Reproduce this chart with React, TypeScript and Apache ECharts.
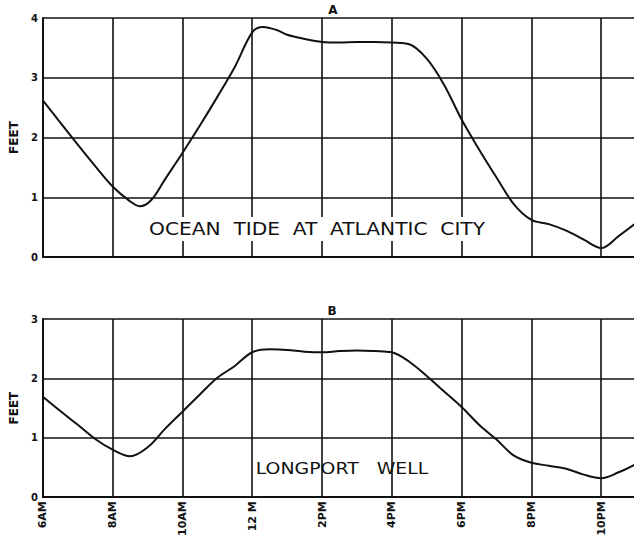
import React, { useEffect, useRef } from "react";
import * as echarts from "echarts";

const xTickLabels = ["6AM", "8AM", "10AM", "12 M", "2PM", "4PM", "6PM", "8PM", "10PM", "12PM"];

const tideHours = [6, 6.5, 7, 7.5, 8, 8.5, 8.78, 9.1, 9.5, 10, 10.5, 11, 11.5, 12, 12.3, 12.7, 13, 13.5, 14, 14.5, 15, 15.5, 16, 16.5, 17, 17.5, 18, 18.5, 19, 19.5, 20, 20.5, 21, 21.5, 22, 22.5, 23];
const tideFeet = [2.62, 2.25, 1.88, 1.52, 1.18, 0.93, 0.85, 0.95, 1.3, 1.74, 2.2, 2.68, 3.18, 3.76, 3.85, 3.8, 3.72, 3.65, 3.6, 3.59, 3.6, 3.6, 3.59, 3.56, 3.32, 2.88, 2.3, 1.8, 1.33, 0.88, 0.62, 0.55, 0.44, 0.29, 0.15, 0.35, 0.57];

const wellHours = [6, 6.5, 7, 7.5, 8, 8.5, 9, 9.5, 10, 10.5, 11, 11.5, 12, 12.5, 13, 13.5, 14, 14.5, 15, 15.5, 16, 16.5, 17, 17.5, 18, 18.5, 19, 19.5, 20, 20.5, 21, 21.5, 22, 22.5, 23];
const wellFeet = [1.69, 1.45, 1.22, 0.98, 0.8, 0.69, 0.84, 1.15, 1.44, 1.73, 2.01, 2.21, 2.44, 2.49, 2.48, 2.45, 2.44, 2.46, 2.47, 2.46, 2.44, 2.28, 2.04, 1.78, 1.52, 1.22, 0.97, 0.7, 0.58, 0.53, 0.48, 0.38, 0.32, 0.42, 0.56];

const INK = "#111";
const FONT = "DejaVu Sans";

export default function App() {
  const ref = useRef<HTMLDivElement>(null);
  useEffect(() => {
    if (!ref.current) return;
    const chart = echarts.init(ref.current, null, { renderer: "svg" });
    const xAxisBase = (gridIndex: number, showLabels: boolean) => ({
      type: "value",
      gridIndex,
      min: 6,
      max: 24,
      interval: 2,
      axisLine: { show: true, lineStyle: { color: INK, width: 2 } },
      axisTick: { show: false },
      splitLine: { show: true, lineStyle: { color: INK, width: 1.6 } },
      axisLabel: {
        show: showLabels,
        rotate: 90,
        margin: 4,
        color: INK,
        fontFamily: FONT,
        fontWeight: "bold",
        fontSize: 11,
        showMaxLabel: true,
        formatter: (v: number) => xTickLabels[Math.round((v - 6) / 2)] ?? "",
      },
    });
    const yAxisBase = (gridIndex: number, max: number) => ({
      type: "value",
      gridIndex,
      min: 0,
      max,
      interval: 1,
      name: "FEET",
      nameLocation: "middle",
      nameGap: 19,
      nameRotate: 90,
      nameTextStyle: { color: INK, fontFamily: FONT, fontWeight: "bold", fontSize: 12 },
      axisLine: { show: true, lineStyle: { color: INK, width: 2 } },
      axisTick: { show: false },
      splitLine: { show: true, lineStyle: { color: INK, width: 1.6 } },
      axisLabel: { color: INK, fontFamily: FONT, fontWeight: "bold", fontSize: 10, margin: 5 },
    });
    const lineSeries = (idx: number, hours: number[], feet: number[]) => ({
      type: "line",
      xAxisIndex: idx,
      yAxisIndex: idx,
      data: hours.map((h, i) => [h, feet[i]]),
      smooth: 0.35,
      showSymbol: false,
      lineStyle: { color: INK, width: 2 },
      z: 5,
    });
    chart.setOption({
      animation: false,
      backgroundColor: "#fff",
      grid: [
        { left: 35, top: 18, height: 239, width: 636 },
        { left: 35, top: 319, height: 181, width: 636 },
      ],
      xAxis: [xAxisBase(0, false), xAxisBase(1, true)],
      yAxis: [yAxisBase(0, 4), yAxisBase(1, 3)],
      series: [lineSeries(0, tideHours, tideFeet), lineSeries(1, wellHours, wellFeet)],
      graphic: [
        {
          type: "text",
          x: 333,
          y: 10,
          style: { text: "A", fill: INK, font: `bold 12px "${FONT}"`, align: "center", verticalAlign: "middle" },
        },
        {
          type: "text",
          x: 332,
          y: 311,
          style: { text: "B", fill: INK, font: `bold 12px "${FONT}"`, align: "center", verticalAlign: "middle" },
        },
        {
          type: "text",
          x: 317,
          y: 229,
          scaleX: 1.12,
          z: 10,
          style: {
            text: "OCEAN  TIDE  AT  ATLANTIC  CITY",
            fill: INK,
            font: `18px "${FONT}"`,
            align: "center",
            verticalAlign: "middle",
            backgroundColor: "#fff",
            padding: [3, 2],
          },
        },
        {
          type: "text",
          x: 342,
          y: 469,
          scaleX: 1.18,
          z: 10,
          style: {
            text: "LONGPORT   WELL",
            fill: INK,
            font: `16px "${FONT}"`,
            align: "center",
            verticalAlign: "middle",
          },
        },
      ],
    });
    return () => chart.dispose();
  }, []);
  return (
    <div style={{ position: "fixed", left: 0, top: 0, width: 634, height: 539, overflow: "hidden", background: "#fff" }}>
      <div ref={ref} style={{ width: 690, height: 539 }} />
    </div>
  );
}
